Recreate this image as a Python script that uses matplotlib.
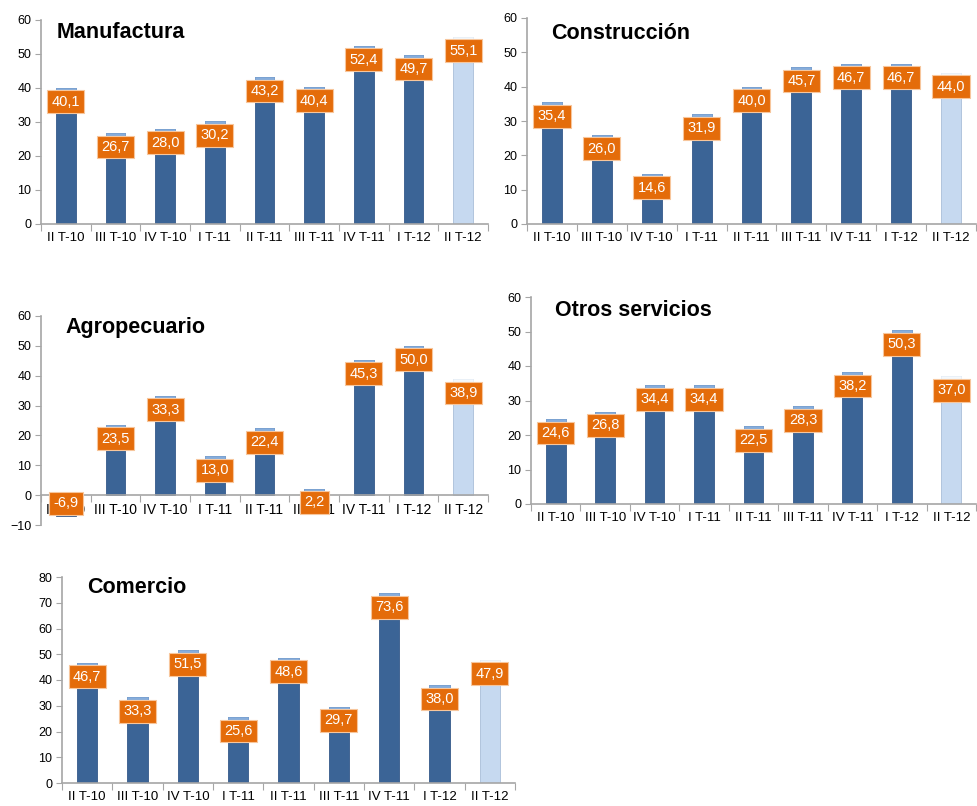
import matplotlib
matplotlib.use("Agg")
import matplotlib.pyplot as plt

plt.rcParams['font.family'] = ['Liberation Sans', 'DejaVu Sans']

quarters = ["II T-10", "III T-10", "IV T-10", "I T-11", "II T-11",
            "III T-11", "IV T-11", "I T-12", "II T-12"]

manufactura = [40.1, 26.7, 28.0, 30.2, 43.2, 40.4, 52.4, 49.7, 55.1]
construccion = [35.4, 26.0, 14.6, 31.9, 40.0, 45.7, 46.7, 46.7, 44.0]
agropecuario = [-6.9, 23.5, 33.3, 13.0, 22.4, 2.2, 45.3, 50.0, 38.9]
otros_servicios = [24.6, 26.8, 34.4, 34.4, 22.5, 28.3, 38.2, 50.3, 37.0]
comercio = [46.7, 33.3, 51.5, 25.6, 48.6, 29.7, 73.6, 38.0, 47.9]

dark_blue = "#3B6496"
cap_blue = "#86ADDC"
light_blue = "#C6D9F0"
orange = "#E46C0A"
grid_gray = "#A6A6A6"

fig = plt.figure(figsize=(9.78, 8.06), dpi=100)
W, H = 978.0, 806.0


def make_axes(left, right, top, bottom):
    return fig.add_axes([left / W, 1 - bottom / H, (right - left) / W, (bottom - top) / H])


def draw_panel(ax, title, values, ymin, ymax, title_x, title_y):
    n = len(values)
    xs = list(range(n))
    cap = (ymax - ymin) * 0.014
    for i, v in enumerate(values):
        last = i == n - 1
        body = light_blue if last else dark_blue
        edge = "#A9BED8" if last else "#34598A"
        top_col = "#F4F8FC" if last else cap_blue
        ax.bar(i, v, width=0.4, color=body, edgecolor=edge, linewidth=0.6, zorder=2)
        if v > 0:
            ax.bar(i, cap, bottom=v - cap, width=0.4, color=top_col,
                   edgecolor=top_col, linewidth=0.5, zorder=3)
        off = -10 if v > 0 else 9
        ax.annotate(f"{v:.1f}".replace(".", ","), xy=(i, v), xytext=(0, off),
                    textcoords="offset points", ha="center", va="center",
                    color="white", fontsize=10.5, zorder=5,
                    bbox=dict(boxstyle="square,pad=0.3", fc=orange, ec="#F7C69C", lw=0.8))

    ax.set_xlim(-0.5, n - 0.5)
    ax.set_ylim(ymin, ymax)
    ax.set_yticks(range(ymin, ymax + 1, 10))
    ax.tick_params(axis="y", labelsize=9, length=4, color=grid_gray, pad=3)

    ax.set_xticks([i - 0.5 for i in range(n + 1)])
    ax.set_xticklabels([])
    ax.set_xticks(xs, minor=True)
    ax.set_xticklabels(quarters, minor=True, fontsize=9.5)
    ax.tick_params(axis="x", which="major", length=5, color=grid_gray)
    ax.tick_params(axis="x", which="minor", length=0, pad=6)

    for s in ["top", "right"]:
        ax.spines[s].set_visible(False)
    for s in ["left", "bottom"]:
        ax.spines[s].set_color(grid_gray)
        ax.spines[s].set_linewidth(1.2)
    if ymin < 0:
        ax.spines["bottom"].set_position(("data", 0))

    ax.text(title_x, title_y, title, transform=ax.transAxes, fontsize=15.5,
            fontweight="bold", ha="left", va="center")


ax1 = make_axes(41, 488, 20, 224)
draw_panel(ax1, "Manufactura", manufactura, 0, 60, 0.036, 0.94)

ax2 = make_axes(527, 976, 18, 224)
draw_panel(ax2, "Construcción", construccion, 0, 60, 0.053, 0.927)

ax3 = make_axes(41, 488, 316, 525)
draw_panel(ax3, "Agropecuario", agropecuario, -10, 60, 0.054, 0.947)

ax4 = make_axes(531, 976, 297, 504)
draw_panel(ax4, "Otros servicios", otros_servicios, 0, 60, 0.054, 0.937)

ax5 = make_axes(62, 515, 577, 783)
draw_panel(ax5, "Comercio", comercio, 0, 80, 0.055, 0.95)

fig.savefig("out.png", dpi=100)
